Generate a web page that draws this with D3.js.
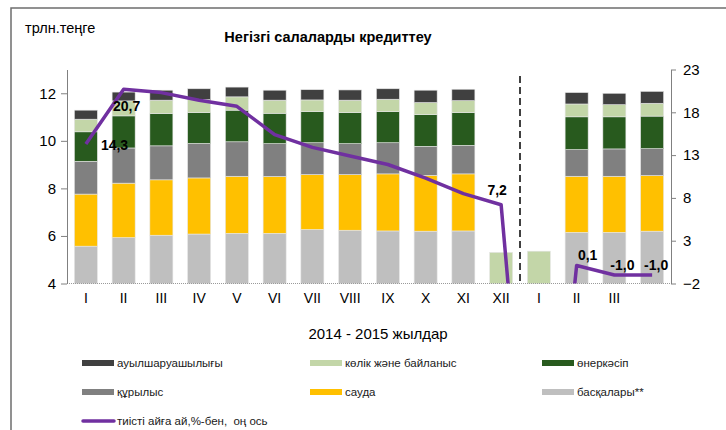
<!DOCTYPE html>
<html>
<head>
<meta charset="utf-8">
<script src="https://cdn.jsdelivr.net/npm/d3@7"></script>
<style>
  body { margin: 0; background: #fff; }
  svg { font-family: "Liberation Sans", Arial, sans-serif; display: block; }
</style>
</head>
<body>
<div id="chart"></div>
<script>
// months of 2014 and 2015, last slot has no label
const slots = ["I-14", "II-14", "III-14", "IV-14", "V-14", "VI-14", "VII-14", "VIII-14",
  "IX-14", "X-14", "XI-14", "XII-14", "I-15", "II-15", "III-15", "IV-15"];
const tickLabels = ["I", "II", "III", "IV", "V", "VI", "VII", "VIII", "IX", "X", "XI", "XII", "I", "II", "III", ""];

// stacked series, trln tenge (bottom to top)
const baskalary = [5.57, 5.93, 6.03, 6.08, 6.11, 6.11, 6.27, 6.24, 6.21, 6.20, 6.21, 0, 0, 6.15, 6.15, 6.20];
const sauda     = [2.19, 2.29, 2.33, 2.36, 2.40, 2.39, 2.31, 2.34, 2.40, 2.35, 2.40, 0, 0, 2.36, 2.36, 2.34];
const kurylys   = [1.38, 1.48, 1.43, 1.45, 1.45, 1.38, 1.34, 1.30, 1.31, 1.22, 1.20, 0, 0, 1.12, 1.15, 1.13];
const onerkasip = [1.24, 1.35, 1.36, 1.30, 1.33, 1.28, 1.31, 1.31, 1.31, 1.33, 1.38, 0, 0, 1.38, 1.35, 1.37];
const kolik     = [0.53, 0.63, 0.56, 0.54, 0.56, 0.55, 0.49, 0.52, 0.52, 0.51, 0.50, 5.31, 5.36, 0.54, 0.51, 0.54];
const auyl      = [0.38, 0.37, 0.42, 0.46, 0.41, 0.42, 0.43, 0.43, 0.44, 0.52, 0.48, 0, 0, 0.48, 0.48, 0.50];

// growth to the corresponding month, %, right axis
const growth = [14.3, 20.7, 20.3, 19.4, 18.7, 15.4, 13.9, 12.9, 11.9, 10.3, 8.5, 7.2, -43, 0.1, -1.0, -1.0];

const leftTicks = [4, 6, 8, 10, 12];
const rightTicks = [-2, 3, 8, 13, 18, 23];

const seriesKeys = ["baskalary", "sauda", "kurylys", "onerkasip", "kolik", "auyl"];
const seriesNames = {
  auyl: "ауылшаруашылығы", kolik: "көлік және байланыс", onerkasip: "өнеркәсіп",
  kurylys: "құрылыс", sauda: "сауда", baskalary: "басқалары**"
};
const colors = {
  auyl: "#404040", kolik: "#c3d6a8", onerkasip: "#285a1e",
  kurylys: "#808080", sauda: "#ffc000", baskalary: "#bfbfbf"
};
const lineColor = "#7030a0";

const table = slots.map((s, i) => ({
  slot: s, baskalary: baskalary[i], sauda: sauda[i], kurylys: kurylys[i],
  onerkasip: onerkasip[i], kolik: kolik[i], auyl: auyl[i]
}));

const width = 726, height = 430;
const plot = { left: 67, right: 671, top: 69.5, bottom: 283.5 };

const svg = d3.select("#chart").append("svg")
  .attr("width", width)
  .attr("height", height);

// frame
svg.append("path")
  .attr("d", `M11,${height} L11,8 L${width},8`)
  .attr("fill", "none")
  .attr("stroke", "#6e6e6e")
  .attr("stroke-width", 1.5);

const x = d3.scaleBand()
  .domain(slots)
  .range([plot.left, plot.right])
  .paddingInner(0.39)
  .paddingOuter(0.195);

const y = d3.scaleLinear().domain([4, 13]).range([plot.bottom, plot.top]);
const y2 = d3.scaleLinear().domain([-2, 23]).range([plot.bottom, plot.top]);

svg.append("defs").append("clipPath")
  .attr("id", "plot-clip")
  .append("rect")
  .attr("x", 0)
  .attr("y", plot.top)
  .attr("width", width)
  .attr("height", plot.bottom - plot.top);

// bars
const stacked = d3.stack().keys(seriesKeys)(table);

const barLayer = svg.append("g").attr("clip-path", "url(#plot-clip)");
barLayer.selectAll("g")
  .data(stacked)
  .join("g")
  .attr("fill", d => colors[d.key])
  .selectAll("rect")
  .data(d => d.filter(p => p[1] - p[0] > 0))
  .join("rect")
  .attr("x", d => x(d.data.slot))
  .attr("width", x.bandwidth())
  .attr("y", d => y(d[1]))
  .attr("height", d => y(d[0]) - y(d[1]))
  .attr("stroke", "#e6e6e6")
  .attr("stroke-width", 0.6);

// x axis line (dotted)
svg.append("line")
  .attr("x1", plot.left).attr("x2", plot.right)
  .attr("y1", plot.bottom).attr("y2", plot.bottom)
  .attr("stroke", "#9a9a9a")
  .attr("stroke-width", 1)
  .attr("stroke-dasharray", "1,1");

// left axis
const leftAxis = svg.append("g")
  .attr("transform", `translate(${plot.left},0)`)
  .call(d3.axisLeft(y).tickValues(leftTicks).tickSize(6).tickSizeOuter(0).tickPadding(5));
leftAxis.select(".domain").attr("stroke", "#808080");
leftAxis.selectAll(".tick line").attr("stroke", "#808080");
leftAxis.selectAll("text")
  .attr("fill", "#000")
  .style("font-size", "15px")
  .style("font-family", "Liberation Sans, Arial, sans-serif");

// right axis
const rightAxis = svg.append("g")
  .attr("transform", `translate(${plot.right},0)`)
  .call(d3.axisRight(y2).tickValues(rightTicks).tickSize(5).tickSizeOuter(0).tickPadding(7));
rightAxis.select(".domain").attr("stroke", "#808080");
rightAxis.selectAll(".tick line").attr("stroke", "#808080");
rightAxis.selectAll("text")
  .attr("fill", "#000")
  .style("font-size", "15px")
  .style("font-family", "Liberation Sans, Arial, sans-serif");

// category labels
const bottomAxis = svg.append("g")
  .attr("transform", `translate(0,${plot.bottom})`)
  .call(d3.axisBottom(x).tickSize(0).tickPadding(10).tickFormat((d, i) => tickLabels[i]));
bottomAxis.select(".domain").remove();
bottomAxis.selectAll("text")
  .attr("fill", "#000")
  .style("font-size", "14px")
  .style("font-family", "Liberation Sans, Arial, sans-serif");

// year separator
const sepX = x(slots[12]) - (x.step() - x.bandwidth()) / 2;
svg.append("line")
  .attr("x1", sepX).attr("x2", sepX)
  .attr("y1", 76).attr("y2", plot.bottom)
  .attr("stroke", "#404040")
  .attr("stroke-width", 2)
  .attr("stroke-dasharray", "7,4");

// growth line
const line = d3.line()
  .x((d, i) => x(slots[i]) + x.bandwidth() / 2)
  .y(d => y2(d));

svg.append("g").attr("clip-path", "url(#plot-clip)")
  .append("path")
  .datum(growth)
  .attr("d", line)
  .attr("fill", "none")
  .attr("stroke", lineColor)
  .attr("stroke-width", 3.5)
  .attr("stroke-linejoin", "round");

// value labels for selected points
const labelPlacement = [
  { i: 0, dx: 15, dy: 6, anchor: "start" },
  { i: 1, dx: 3, dy: 22, anchor: "middle" },
  { i: 11, dx: -4, dy: -10, anchor: "middle" },
  { i: 13, dx: 11, dy: -6, anchor: "middle" },
  { i: 14, dx: 8, dy: -5, anchor: "middle" },
  { i: 15, dx: 4, dy: -5, anchor: "middle" }
];
const fmt = v => d3.format(".1f")(v).replace(".", ",").replace("−", "-");

svg.append("g")
  .selectAll("text")
  .data(labelPlacement)
  .join("text")
  .attr("x", d => x(slots[d.i]) + x.bandwidth() / 2 + d.dx)
  .attr("y", d => y2(growth[d.i]) + d.dy)
  .attr("text-anchor", d => d.anchor)
  .style("font-size", "14px")
  .style("font-weight", "bold")
  .attr("fill", "#000")
  .text(d => fmt(growth[d.i]));

// texts
svg.append("text")
  .attr("x", 25).attr("y", 33)
  .style("font-size", "14.5px")
  .text("трлн.теңге");

svg.append("text")
  .attr("x", 328).attr("y", 42)
  .attr("text-anchor", "middle")
  .style("font-size", "14.5px")
  .style("font-weight", "bold")
  .text("Негізгі салаларды кредиттеу");

svg.append("text")
  .attr("x", 378).attr("y", 339)
  .attr("text-anchor", "middle")
  .style("font-size", "15px")
  .text("2014 - 2015 жылдар");

// legend
const legendItems = [
  { key: "auyl", col: 0, row: 0 }, { key: "kolik", col: 1, row: 0 }, { key: "onerkasip", col: 2, row: 0 },
  { key: "kurylys", col: 0, row: 1 }, { key: "sauda", col: 1, row: 1 }, { key: "baskalary", col: 2, row: 1 }
];
const colX = [82, 310, 542];
const rowY = [363, 392, 421];

const legend = svg.append("g");
legendItems.forEach(item => {
  const g = legend.append("g")
    .attr("transform", `translate(${colX[item.col]},${rowY[item.row]})`);
  g.append("rect")
    .attr("x", 0).attr("y", -3)
    .attr("width", 32).attr("height", 6)
    .attr("fill", colors[item.key]);
  g.append("text")
    .attr("x", 35).attr("y", 4)
    .style("font-size", "11.5px")
    .attr("fill", "#1a1a1a")
    .text(seriesNames[item.key]);
});

const lineLegend = legend.append("g")
  .attr("transform", `translate(${colX[0]},${rowY[2]})`);
lineLegend.append("line")
  .attr("x1", 1).attr("x2", 32)
  .attr("y1", 0).attr("y2", 0)
  .attr("stroke", lineColor)
  .attr("stroke-width", 3.5)
  .attr("stroke-linecap", "round");
lineLegend.append("text")
  .attr("x", 35).attr("y", 4)
  .style("font-size", "11.5px")
  .attr("fill", "#1a1a1a")
  .style("white-space", "pre")
  .text("тиісті айға ай,%-бен,  оң ось");
</script>
</body>
</html>
